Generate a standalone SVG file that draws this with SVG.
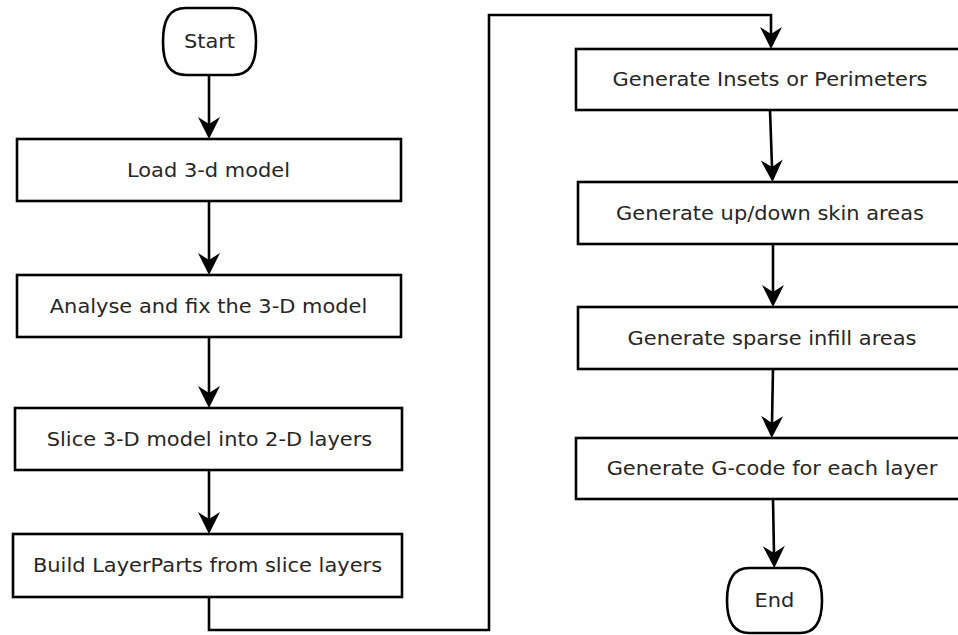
<svg xmlns="http://www.w3.org/2000/svg" width="958" height="635" viewBox="0 0 958 635">
<style>
.box{fill:#fff;stroke:#000;stroke-width:2.6}
.lbl{font-family:"DejaVu Sans",sans-serif;font-size:19.5px;fill:#262626;text-anchor:middle}
.con{fill:none;stroke:#000;stroke-width:2.6}
</style>
<defs>
<marker id="ah" viewBox="-23 -12 25 24" markerWidth="25" markerHeight="24" refX="-15" refY="0" orient="auto" markerUnits="userSpaceOnUse">
<path d="M0,0 L-22,-11 L-15,0 L-22,11 Z" fill="#000"/>
</marker>
</defs>
<rect width="958" height="635" fill="#fff"/>
<g id="connectors">
<line class="con" x1="209" y1="75" x2="209" y2="124" marker-end="url(#ah)"/>
<line class="con" x1="209" y1="201" x2="209" y2="260" marker-end="url(#ah)"/>
<line class="con" x1="209" y1="337" x2="209" y2="393" marker-end="url(#ah)"/>
<line class="con" x1="209" y1="470" x2="209" y2="519" marker-end="url(#ah)"/>
<polyline class="con" points="209,597 209,630 489,630 489,15 771,15 771,34" marker-end="url(#ah)"/>
<line class="con" x1="770" y1="110" x2="772" y2="167" marker-end="url(#ah)"/>
<line class="con" x1="773" y1="244" x2="773" y2="292" marker-end="url(#ah)"/>
<line class="con" x1="773" y1="369" x2="772" y2="423" marker-end="url(#ah)"/>
<line class="con" x1="773" y1="499" x2="774" y2="553" marker-end="url(#ah)"/>
</g>
<g id="start">
<path class="box" d="M186,8 H233 C250,8 256,20 256,41.5 C256,63 250,75 233,75 H186 C169,75 163,63 163,41.5 C163,20 169,8 186,8 Z"/>
<text class="lbl" transform="translate(209.5,48) scale(1.075,1)">Start</text>
</g>
<g id="load">
<rect class="box" x="17" y="139" width="384" height="62"/>
<text class="lbl" transform="translate(208.5,177) scale(1.075,1)">Load 3-d model</text>
</g>
<g id="analyse">
<rect class="box" x="17" y="275" width="384" height="62"/>
<text class="lbl" transform="translate(208.5,313) scale(1.075,1)">Analyse and fix the 3-D model</text>
</g>
<g id="slice">
<rect class="box" x="15" y="408" width="387" height="62"/>
<text class="lbl" transform="translate(209.5,446) scale(1.075,1)">Slice 3-D model into 2-D layers</text>
</g>
<g id="build">
<rect class="box" x="13" y="534" width="389" height="63"/>
<text class="lbl" transform="translate(207.5,572) scale(1.075,1)">Build LayerParts from slice layers</text>
</g>
<g id="insets">
<rect class="box" x="576" y="49" width="390" height="61"/>
<text class="lbl" transform="translate(770,86) scale(1.075,1)">Generate Insets or Perimeters</text>
</g>
<g id="skin">
<rect class="box" x="578" y="182" width="390" height="62"/>
<text class="lbl" transform="translate(770,220) scale(1.075,1)">Generate up/down skin areas</text>
</g>
<g id="infill">
<rect class="box" x="578" y="307" width="390" height="62"/>
<text class="lbl" transform="translate(772,345) scale(1.075,1)">Generate sparse infill areas</text>
</g>
<g id="gcode">
<rect class="box" x="576" y="438" width="390" height="61"/>
<text class="lbl" transform="translate(772,474.5) scale(1.075,1)">Generate G-code for each layer</text>
</g>
<g id="end">
<path class="box" d="M749,568 H800 C816,568 822,580 822,600.5 C822,621 816,633 800,633 H749 C733,633 727,621 727,600.5 C727,580 733,568 749,568 Z"/>
<text class="lbl" transform="translate(774.5,607) scale(1.075,1)">End</text>
</g>
</svg>
